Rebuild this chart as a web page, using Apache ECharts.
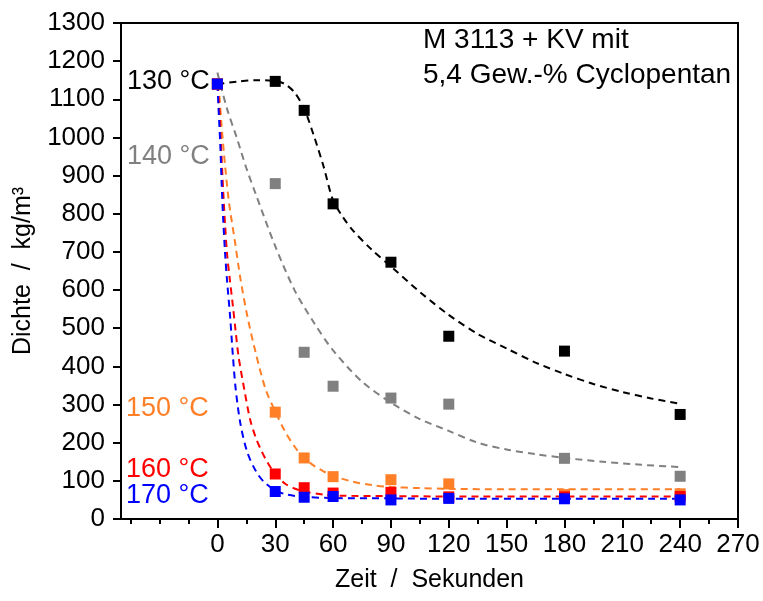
<!DOCTYPE html>
<html>
<head>
<meta charset="utf-8">
<script src="https://cdn.jsdelivr.net/npm/echarts@6/dist/echarts.min.js"></script>
<style>
    html, body { margin: 0; padding: 0; background: #fff; }
    #Dichte { width: 763px; height: 601px; }
</style>
</head>
<body>
<div id="Dichte"></div>
<script>
// Messpunkte: Zeit / Sekunden
var zeit = [0, 30, 45, 60, 90, 120, 180, 240];
var dichte130 = [1140, 1147, 1071, 826, 673, 479, 440, 274];
var dichte140 = [1140, 879, 437, 348, 317, 301, 159, 112];
var dichte150 = [1140, 280, 160, 111, 103, 92, 64, 66];
var dichte160 = [1140, 118, 82, 68, 70, 58, 58, 59];
var dichte170 = [1140, 72, 57, 59, 50, 54, 53, 50];

// Fitkurven (gestrichelt)
var fit130X = [0, 10, 20, 30, 35, 40, 45, 50, 55, 60, 65, 70, 80, 90, 105, 120, 135, 150, 165, 180, 195, 210, 225, 240];
var fit130Y = [1140, 1146, 1150, 1148, 1140, 1118, 1075, 1005, 925, 835, 792, 758, 706, 662, 595, 535, 485, 447, 410, 380, 354, 333, 316, 302];
var fit140X = [0, 5, 10, 15, 20, 30, 40, 50, 60, 75, 90, 105, 120, 135, 150, 165, 180, 200, 220, 240];
var fit140Y = [1170, 1075, 1000, 920, 850, 715, 600, 515, 442, 360, 305, 262, 231, 200, 182, 170, 160, 150, 142, 136];
var fit150X = [0, 1, 2, 4, 6, 9, 12, 15.5, 20, 25, 30, 35, 40, 45, 50, 55, 60, 70, 80, 90, 105, 120, 150, 180, 210, 240];
var fit150Y = [1140, 1110, 1040, 925, 830, 730, 628, 532, 433, 340, 282, 230, 190, 160, 140, 125, 113, 98, 89, 84, 81, 79, 78, 78, 78, 78];
var fit160X = [0, 1, 2, 3, 4, 5, 6.5, 8, 9.5, 11, 14, 17, 20, 23, 26, 30, 35, 40, 45, 55, 65, 90, 120, 180, 240];
var fit160Y = [1140, 1075, 965, 860, 770, 695, 625, 560, 490, 425, 338, 260, 212, 177, 148, 118, 93, 80, 72, 64, 61, 60, 59, 59, 59];
var fit170X = [0, 0.5, 1.5, 2.2, 3, 4, 5, 6.6, 8, 9.5, 12, 15.5, 20, 24, 30, 36, 45, 60, 90, 120, 180, 240];
var fit170Y = [1140, 1085, 980, 880, 785, 695, 625, 530, 430, 340, 248, 175, 125, 98, 75, 64, 58, 55, 54, 53, 53, 53];

// Achsen
var xTicks = [0, 30, 60, 90, 120, 150, 180, 210, 240, 270];
var xMinorTicks = [-45, -30, -15, 15, 45, 75, 105, 135, 165, 195, 225, 255];

var FONT = "'Liberation Sans', Arial, sans-serif";

function pairs(xs, ys) {
    return xs.map(function (x, i) { return [x, ys[i]]; });
}

LoadDichte();

function LoadDichte() {
    var myChart = echarts.init(document.getElementById("Dichte"));
    var reihen = [
        { name: '130 °C', color: '#000000', pts: dichte130, fx: fit130X, fy: fit130Y },
        { name: '140 °C', color: '#808080', pts: dichte140, fx: fit140X, fy: fit140Y },
        { name: '150 °C', color: '#ff7f27', pts: dichte150, fx: fit150X, fy: fit150Y },
        { name: '160 °C', color: '#ff0000', pts: dichte160, fx: fit160X, fy: fit160Y },
        { name: '170 °C', color: '#0000ff', pts: dichte170, fx: fit170X, fy: fit170Y }
    ];
    var series = [];
    reihen.forEach(function (r) {
        series.push({
            name: r.name + ' Fit',
            type: 'line',
            data: pairs(r.fx, r.fy),
            showSymbol: false,
            smooth: 0.3,
            lineStyle: { color: r.color, width: 2, type: [7, 5] },
            z: 2,
            silent: true
        });
    });
    reihen.forEach(function (r) {
        series.push({
            name: r.name,
            type: 'scatter',
            data: pairs(zeit, r.pts),
            symbol: 'rect',
            symbolSize: 11,
            itemStyle: { color: r.color, opacity: 1 },
            z: 3
        });
    });

    var option = {
        backgroundColor: '#ffffff',
        animation: false,
        grid: {
            left: 121,
            right: 25,
            top: 23,
            bottom: 82,
            show: true,
            borderColor: '#000',
            borderWidth: 2,
            backgroundColor: 'transparent'
        },
        xAxis: [{
            type: 'value',
            position: 'bottom',
            min: -50,
            max: 270,
            name: 'Zeit  /  Sekunden',
            nameLocation: 'middle',
            nameGap: 49,
            nameTextStyle: { color: '#000', fontSize: 25, fontFamily: FONT },
            axisLine: { onZero: false, lineStyle: { color: '#000', width: 2 } },
            axisTick: { customValues: xTicks, length: 9, lineStyle: { color: '#000', width: 2 } },
            axisLabel: { customValues: xTicks, color: '#000', fontSize: 26, fontFamily: FONT, margin: 13 },
            splitLine: { show: false }
        }, {
            type: 'value',
            position: 'bottom',
            min: -50,
            max: 270,
            axisLine: { show: false, onZero: false },
            axisTick: { customValues: xMinorTicks, length: 5, lineStyle: { color: '#000', width: 2 } },
            axisLabel: { show: false },
            splitLine: { show: false }
        }],
        yAxis: {
            type: 'value',
            min: 0,
            max: 1300,
            interval: 100,
            name: 'Dichte  /  kg/m³',
            nameLocation: 'middle',
            nameGap: 85,
            nameTextStyle: { color: '#000', fontSize: 25, fontFamily: FONT },
            axisLine: { show: true, onZero: false, lineStyle: { color: '#000', width: 2 } },
            axisTick: { show: true, length: 8, lineStyle: { color: '#000', width: 2 } },
            axisLabel: {
                color: '#000', fontSize: 26, fontFamily: FONT, margin: 16,
                formatter: function (v) { return String(v); }
            },
            splitLine: { show: false }
        },
        graphic: [
            { type: 'text', x: 127, y: 82, style: { text: '130 °C', fill: '#000000', font: '27px ' + FONT, verticalAlign: 'middle' } },
            { type: 'text', x: 127, y: 157, style: { text: '140 °C', fill: '#808080', font: '27px ' + FONT, verticalAlign: 'middle' } },
            { type: 'text', x: 126, y: 409, style: { text: '150 °C', fill: '#ff7f27', font: '27px ' + FONT, verticalAlign: 'middle' } },
            { type: 'text', x: 126, y: 470, style: { text: '160 °C', fill: '#ff0000', font: '27px ' + FONT, verticalAlign: 'middle' } },
            { type: 'text', x: 126, y: 496, style: { text: '170 °C', fill: '#0000ff', font: '27px ' + FONT, verticalAlign: 'middle' } },
            { type: 'text', x: 423, y: 40, style: { text: 'M 3113 + KV mit', fill: '#000', font: '28px ' + FONT, verticalAlign: 'middle' } },
            { type: 'text', x: 423, y: 75, style: { text: '5,4 Gew.-% Cyclopentan', fill: '#000', font: '28px ' + FONT, verticalAlign: 'middle' } }
        ],
        series: series
    };
    myChart.setOption(option);
}
</script>
</body>
</html>
